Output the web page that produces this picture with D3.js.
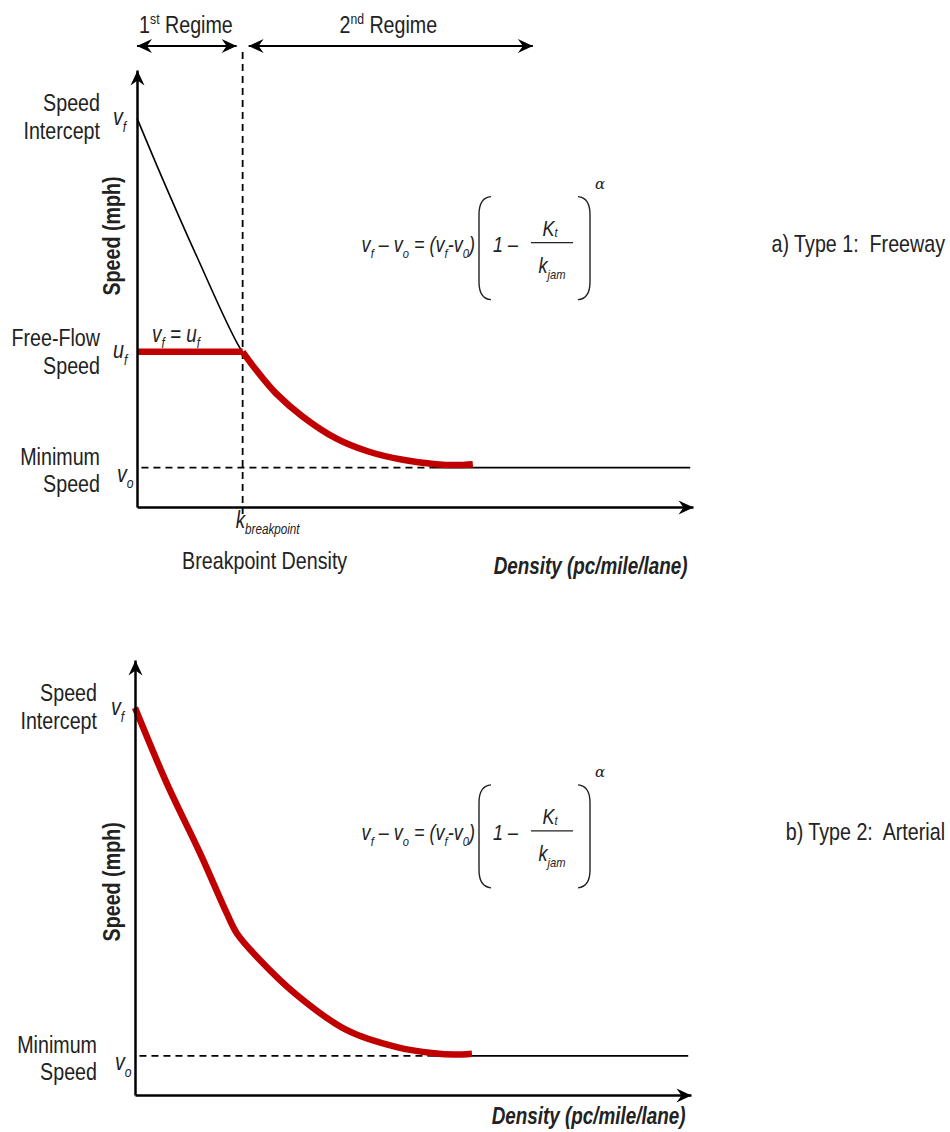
<!DOCTYPE html>
<html>
<head>
    <title>Speed-Density Curves</title>
</head>

<style>
body { margin: 0; background: #fff; }
svg text { font-family: "Liberation Sans", Arial, sans-serif; fill: #222; white-space: pre; }
.axis .domain { stroke: #000; stroke-width: 2.5px; }
.guide { stroke: #000; stroke-width: 1.8px; stroke-dasharray: 7,5; fill: none; }
.curve { fill: none; stroke: #000; stroke-width: 1.6px; }
.red { fill: none; stroke: #c00000; stroke-width: 6.5px; }
.paren { fill: none; stroke: #222; stroke-width: 1.4px; }
</style>

<body>
<script src="https://d3js.org/d3.v7.min.js"></script>
<script type="text/javascript">

// Values (density 0-100 along x, speed 0-100 along y)

var vf = 89,        // speed intercept
    uf = 35.5,      // free-flow speed
    v0 = 9,         // minimum speed
    kBreak = 19,    // breakpoint density
    kFlat = 53,     // where the v0 guide becomes solid
    kEnd = 99.5;

// Type 1 freeway: black curve through the first regime and under the red one
var freewayDensity = [0, 4.7, 10.8, 18.5, 21.4, 25, 29.8, 35.8, 41.6, 47.8, 53.8];
var freewaySpeed   = [89, 74.8, 57.2, 36.4, 31.4, 26, 20.7, 15.7, 12.7, 10.8, 9.8];

// Type 1 freeway: red curve after the breakpoint
var redDensity = [19, 21.4, 25, 29.8, 35.8, 41.6, 47.8, 53.8, 57.4, 60.4];
var redSpeed   = [35.5, 31.4, 26, 20.7, 15.7, 12.7, 10.8, 9.8, 9.6, 9.8];

// Type 2 arterial: red curve
var arterialDensity = [0, 5.7, 11.7, 16.5, 18.3, 21.9, 29.1, 38.1, 47.1, 53.8, 57.4, 60.6];
var arterialSpeed   = [89, 71.7, 55.6, 41.8, 37.2, 31.8, 23, 14.9, 11, 9.6, 9.3, 9.5];

var panels = [
    { id: "a", left: 137, top: 70, h: 437, caption: "a) Type 1:  Freeway",
      titleSpeed: 62, titleX: -17, densityDy: 67 },
    { id: "b", left: 135, top: 660, h: 435, caption: "b) Type 2:  Arterial",
      titleSpeed: 49, titleX: -15, densityDy: 29 }
];

var width = 950, height = 1132;

var svg = d3.select("body").append("svg")
    .attr("width", width)
    .attr("height", height);

svg.append("defs").append("marker")
    .attr("id", "head")
    .attr("markerUnits", "userSpaceOnUse")
    .attr("viewBox", "-16 -8 18 16")
    .attr("refX", 0).attr("refY", 0)
    .attr("markerWidth", 18).attr("markerHeight", 16)
    .attr("orient", "auto-start-reverse")
    .append("path")
    .attr("d", "M0,0 L-15,-7 L-10,0 L-15,7 Z")
    .attr("fill", "#000");

// narrow text (Arial Narrow look) with sub/superscripts
// parts = ["v", ["f","sub"], ...]
function label(g, x, y, parts, o) {
    o = o || {};
    var size = o.size || 24;
    var wrap = g.append("g")
        .attr("transform", "translate(" + x + "," + y + ")" +
            (o.rotate ? " rotate(" + o.rotate + ")" : "") +
            " scale(" + (o.sx || 0.82) + ",1)");
    var t = wrap.append("text")
        .attr("font-size", size)
        .attr("font-style", o.italic ? "italic" : null)
        .attr("font-weight", o.bold ? "bold" : null)
        .attr("text-anchor", o.anchor || "start");
    if (typeof parts === "string") parts = [parts];
    var sub = o.sub != null ? o.sub : 0.28;
    var shift = 0;
    parts.forEach(function(p) {
        var s = typeof p === "string" ? p : p[0],
            k = typeof p === "string" ? "n" : p[1];
        var target = k === "sub" ? size * sub : k === "sup" ? -size * 0.38 : 0;
        t.append("tspan")
            .attr("dy", target - shift)
            .attr("font-size", k === "n" ? size : size * 0.62)
            .text(s);
        shift = target;
    });
    return t;
}

function paren(g, x, y0, y1, dir) {
    // dir = 1 for "(" , -1 for ")"
    var w = 12 * dir;
    g.append("path").attr("class", "paren")
        .attr("d", "M" + (x + w) + "," + y0 +
            " Q" + x + "," + (y0 + 1) + " " + x + "," + (y0 + 18) +
            " L" + x + "," + (y1 - 18) +
            " Q" + x + "," + (y1 - 1) + " " + (x + w) + "," + y1);
}

function formula(g, px, b) {
    // px : x of the left bracket, b : baseline of the main line
    label(g, px - 4, b, ["v", ["f", "sub"], " \u2013 v", ["o", "sub"], " = (v", ["f", "sub"], "-v", ["0", "sub"], ")"],
        { size: 22, italic: true, anchor: "end" });
    paren(g, px, b - 55, b + 48, 1);
    label(g, px + 14, b, "1 \u2013", { size: 22, italic: true });
    label(g, px + 71, b - 16, ["K", ["t", "sub"]], { size: 22, italic: true, anchor: "middle", sub: 0.06 });
    g.append("line")
        .attr("x1", px + 52).attr("x2", px + 94)
        .attr("y1", b - 9).attr("y2", b - 9)
        .attr("stroke", "#222").attr("stroke-width", 1.2);
    label(g, px + 73, b + 21, ["k", ["jam", "sub"]], { size: 22, italic: true, anchor: "middle" });
    paren(g, px + 111, b - 55, b + 48, -1);
    g.append("text")
        .attr("x", px + 116).attr("y", b - 63)
        .attr("font-size", 15).attr("font-style", "italic")
        .style("font-family", "'DejaVu Serif', serif")
        .text("\u03b1");
}

panels.forEach(function(p) {
    var x = d3.scaleLinear().domain([0, 100]).range([0, 556]);
    var y = d3.scaleLinear().domain([0, 100]).range([p.h, 0]);

    var g = svg.append("g")
        .attr("transform", "translate(" + p.left + "," + p.top + ")");

    var line = d3.line()
        .x(function(d) { return x(d[0]); })
        .y(function(d) { return y(d[1]); })
        .curve(d3.curveCatmullRom.alpha(0.5));

    // minimum speed guide: dashed, then solid
    g.append("line").attr("class", "guide")
        .attr("x1", x(0.8)).attr("x2", x(kFlat))
        .attr("y1", y(v0)).attr("y2", y(v0));
    g.append("line")
        .attr("x1", x(kFlat)).attr("x2", x(kEnd))
        .attr("y1", y(v0)).attr("y2", y(v0))
        .attr("stroke", "#000").attr("stroke-width", 1.8);

    if (p.id === "a") {
        // breakpoint guide
        g.append("line").attr("class", "guide")
            .attr("x1", x(kBreak)).attr("x2", x(kBreak))
            .attr("y1", y(100) - 18).attr("y2", y(0) + 7);

        g.append("path").attr("class", "curve")
            .attr("d", line(d3.zip(freewayDensity, freewaySpeed)));

        g.append("path").attr("class", "red")
            .attr("d", d3.line()([[x(0), y(uf)], [x(kBreak), y(uf)]]));
        g.append("path").attr("class", "red")
            .attr("d", line(d3.zip(redDensity, redSpeed)));

        // regime arrows
        var ay = y(100) - 24;
        g.append("line")
            .attr("x1", x(0)).attr("x2", x(kBreak) - 6)
            .attr("y1", ay).attr("y2", ay)
            .attr("stroke", "#000").attr("stroke-width", 2)
            .attr("marker-start", "url(#head)").attr("marker-end", "url(#head)");
        g.append("line")
            .attr("x1", x(kBreak) + 6).attr("x2", x(71.2))
            .attr("y1", ay).attr("y2", ay)
            .attr("stroke", "#000").attr("stroke-width", 2)
            .attr("marker-start", "url(#head)").attr("marker-end", "url(#head)");
        label(g, x(8.8), ay - 13, ["1", ["st", "sup"], " Regime"], { anchor: "middle" });
        label(g, x(45.2), ay - 13, ["2", ["nd", "sup"], " Regime"], { anchor: "middle" });

        label(g, x(2.7), y(uf) - 10, ["v", ["f", "sub"], " = u", ["f", "sub"]], { size: 23, italic: true });

        // free-flow labels
        label(g, -37, y(uf) - 6, "Free-Flow", { anchor: "end" });
        label(g, -37, y(uf) + 22, "Speed", { anchor: "end" });
        label(g, -24, y(uf) + 6, ["u", ["f", "sub"]], { italic: true });

        label(g, x(kBreak) - 7, y(0) + 21, ["k", ["breakpoint", "sub"]], { size: 23, italic: true });
        label(g, x(kBreak) + 22, y(0) + 62, "Breakpoint Density", { anchor: "middle" });
    } else {
        g.append("path").attr("class", "red")
            .attr("d", line(d3.zip(arterialDensity, arterialSpeed)));
    }

    // axes with arrow heads
    var xAxis = g.append("g").attr("class", "axis")
        .attr("transform", "translate(0," + p.h + ")")
        .call(d3.axisBottom(x).tickValues([]).tickSizeOuter(0));
    xAxis.select(".domain").attr("marker-end", "url(#head)");
    var yAxis = g.append("g").attr("class", "axis")
        .call(d3.axisLeft(y).tickValues([]).tickSizeOuter(0));
    yAxis.select(".domain").attr("marker-end", "url(#head)");

    // axis titles
    label(g, p.titleX, y(p.titleSpeed), "Speed (mph)", { bold: true, rotate: -90, anchor: "middle" });
    label(g, x(99), y(0) + p.densityDy, "Density (pc/mile/lane)", { size: 23, bold: true, italic: true, anchor: "end" });

    // speed intercept
    var lx = p.id === "a" ? -37 : -38;
    label(g, lx, y(vf) - 7, "Speed", { anchor: "end" });
    label(g, lx, y(vf) + 21, "Intercept", { anchor: "end" });
    label(g, -24, y(vf) + 7, ["v", ["f", "sub"]], { italic: true });

    // minimum speed
    label(g, lx, y(v0) - 3, "Minimum", { anchor: "end" });
    label(g, lx, y(v0) + 24, "Speed", { anchor: "end" });
    label(g, -20, y(v0) + 14, ["v", ["o", "sub"]], { italic: true });

    var base = y(v0) - 216;
    formula(g, 479 - p.left, base);
    label(g, width - 5 - p.left, base, p.caption, { anchor: "end" });
});

</script>
</body>
</html>
